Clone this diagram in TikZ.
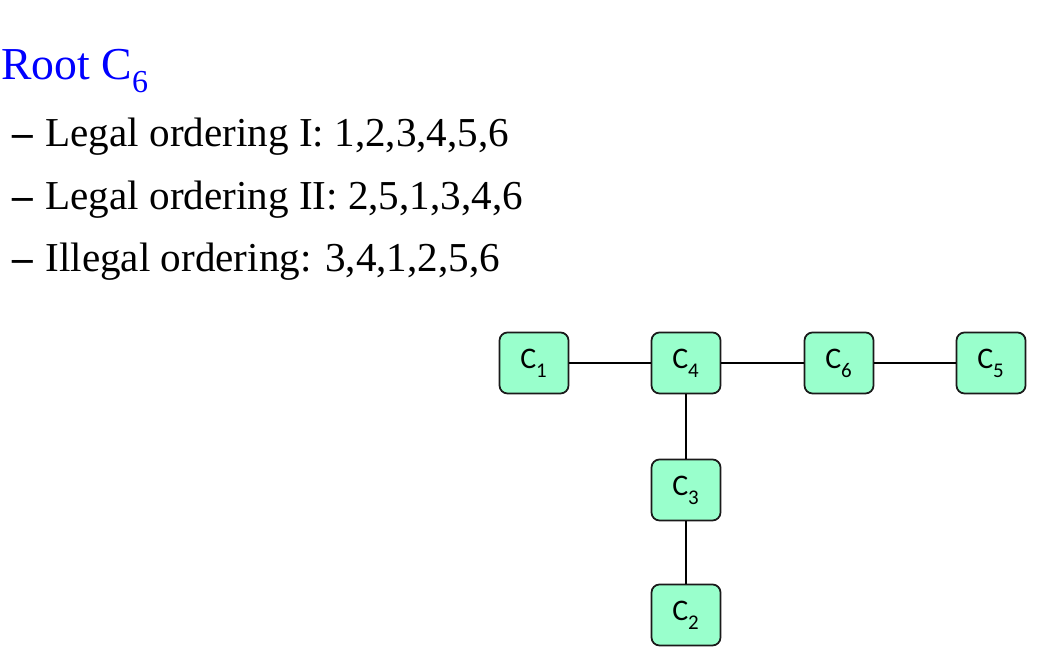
\documentclass[tikz,border=0pt]{standalone}
\usepackage{fontspec}
\setmainfont{Liberation Serif}
\newfontfamily\cliquefont{Carlito}
\usetikzlibrary{positioning}
\definecolor{CliqueMint}{HTML}{99FFCC}
\definecolor{CliqueEdge}{HTML}{1A1A1A}
\definecolor{RootBlue}{HTML}{0000FF}
\newcommand{\lowsub}[1]{\raisebox{-0.3ex}{\textsubscript{#1}}}

\begin{document}
\begin{tikzpicture}[
  x=1cm,y=1cm,
  clique/.style={
    rounded corners=0.16cm,
    line width=1pt,
    draw=CliqueEdge,
    fill=CliqueMint,
    minimum width=1.38cm,
    minimum height=1.22cm,
    inner sep=0pt,
    font=\cliquefont\fontsize{17}{19}\selectfont
  },
  link/.style={
    line width=1.4pt,
    draw=black
  },
  heading/.style={
    anchor=base west,
    inner sep=0pt,
    text=RootBlue,
    font=\fontsize{26}{30}\selectfont
  },
  item/.style={
    anchor=base west,
    inner sep=0pt,
    font=\fontsize{23.4}{28}\selectfont
  }
]
\useasboundingbox (0,0) rectangle (20.92,13.40);

% -------------------------------------------------
% Text
% -------------------------------------------------
\node[heading] (root) at (0.02,11.80) {Root C\lowsub{6}};

\node[item] (ord1) at (0.24,10.46) {\textbf{--}\hspace{0.3em}Legal ordering I: 1,2,3,4,5,6};
\node[item] (ord2) at (0.24,9.20) {\textbf{--}\hspace{0.3em}Legal ordering II: 2,5,1,3,4,6};
\node[item] (ord3) at (0.24,7.96) {\textbf{--}\hspace{0.3em}Illegal ordering: 3,4,1,2,5,6};

% -------------------------------------------------
% Clique tree
% -------------------------------------------------
\node[clique] (c1) at (10.68,6.14) {C\lowsub{1}};
\node[clique] (c4) at (13.72,6.14) {C\lowsub{4}};
\node[clique] (c6) at (16.78,6.14) {C\lowsub{6}};
\node[clique] (c5) at (19.82,6.14) {C\lowsub{5}};
\node[clique] (c3) at (13.72,3.60) {C\lowsub{3}};
\node[clique] (c2) at (13.72,1.10) {C\lowsub{2}};

\draw[link] (c1.east) -- (c4.west);
\draw[link] (c4.east) -- (c6.west);
\draw[link] (c6.east) -- (c5.west);
\draw[link] (c4.south) -- (c3.north);
\draw[link] (c3.south) -- (c2.north);

\end{tikzpicture}
\end{document}
